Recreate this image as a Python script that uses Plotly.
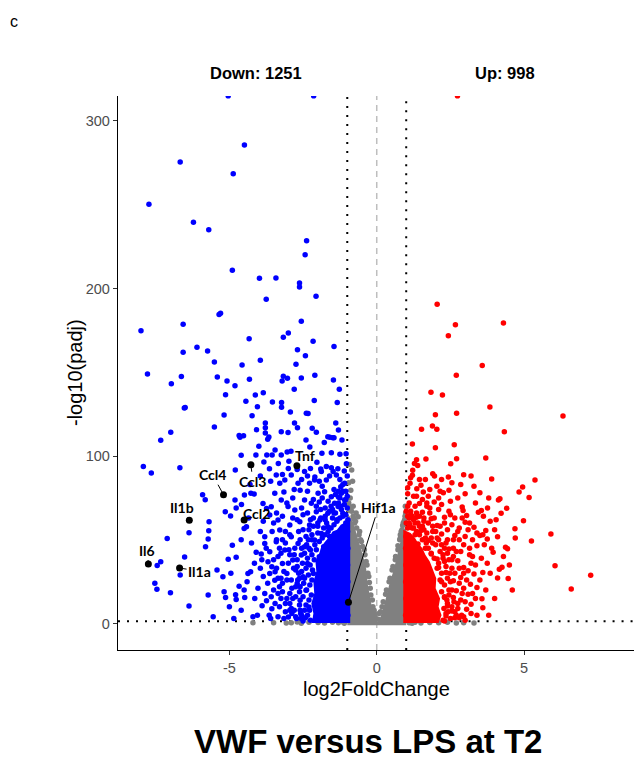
import plotly.graph_objects as go

# ---------------- data ----------------
# significant down-regulated genes (log2FoldChange, -log10(padj))
blue_pts = [
    (-5.04, 315), (-2.14, 315), (-4.49, 285.7), (-6.67, 275.5), (-4.87, 268.5), (-7.73, 250.3),
    (-6.22, 239.5), (-5.70, 235), (-2.38, 228.5), (-2.43, 220.2), (-4.90, 210.9), (-3.98, 206.1),
    (-3.42, 206.3), (-2.62, 203.3), (-2.62, 200.9), (-2.06, 195.3), (-3.75, 193.6),
    (-5.35, 184.4), (-5.30, 185.2), (-8.00, 174.8), (-6.57, 178.6), (-2.56, 180.4), (-3.00, 173.4),
    (-3.17, 170.9), (-4.33, 170), (-2.16, 168.5), (-6.10, 164.9), (-5.74, 162.7), (-6.57, 161.9),
    (-1.45, 165.3), (-2.69, 163.5), (-2.42, 159.9), (-3.95, 157.1), (-5.51, 156.1), (-4.57, 154.3),
    (-2.74, 154.7), (-7.78, 149), (-6.97, 143.2), (-6.63, 147.4), (-5.41, 147.2), (-5.08, 144.8),
    (-4.81, 142), (-4.32, 145.8), (-3.17, 147.6), (-3.21, 144.8), (-3.03, 146.4), (-2.56, 146.6),
    (-2.10, 148.2), (-1.47, 145.4), (-1.27, 139.8), (-2.80, 139.8), (-3.85, 137.8), (-4.12, 136.4),
    (-5.13, 136.6), (-4.44, 132.7), (-3.54, 132.2), (-3.23, 132), (-3.23, 129.1), (-2.12, 133.2),
    (-1.34, 132), (-6.53, 128.7), (-6.50, 128.9), (-4.05, 129.4), (-2.93, 126.3), (-2.39, 125.5),
    (-2.33, 125.4), (-5.18, 124.5), (-4.23, 124.1), (-5.51, 117.3), (-6.99, 114.2), (-7.33, 109.4),
    (-4.08, 115.7), (-3.78, 119.7), (-3.78, 116.9), (-3.78, 113.7), (-3.24, 114.5), (-3.01, 114.1),
    (-2.79, 119.7), (-2.69, 116.9), (-2.19, 116.5), (-2.05, 114.2), (-1.39, 119.7), (-1.30, 115.5),
    (-4.67, 112.3), (-4.52, 112.1), (-4.64, 111.2), (-3.66, 111.3), (-3.70, 110), (-2.40, 109.6),
    (-1.78, 108), (-1.66, 111.5), (-1.49, 110.9), (-1.45, 110.9), (-1.59, 111.2), (-1.18, 109.6),
    (-4.00, 105.8), (-2.27, 105.4), (-3.45, 103.6), (-4.60, 100.4), (-4.10, 100.6), (-3.73, 100.6),
    (-3.55, 100.6), (-3.24, 100.6), (-3.04, 102.4), (-2.91, 102.9), (-1.86, 101.6), (-1.54, 101.9),
    (-1.25, 101), (-1.04, 101.4), (-3.83, 96.4), (-3.64, 92.4), (-3.34, 95.6), (-2.98, 96.8),
    (-7.92, 93.8), (-6.68, 93), (-2.25, 92.6), (-2.03, 96.2), (-1.90, 92.2), (-1.71, 93.8),
    (-1.54, 93), (-1.32, 92.4), (-1.03, 95.4),
    (-7.65, 89.9), (-5.91, 76.9), (-5.82, 73.9), (-4.80, 91.6), (-5.14, 66.8), (-4.96, 64.2),
    (-4.77, 68.9), (-4.81, 73.7), (-4.59, 71.1), (-4.49, 76.7), (-6.37, 54.2), (-5.69, 60.8),
    (-5.70, 55.4), (-5.72, 50.4), (-5.81, 45.8), (-7.11, 50.8), (-6.52, 39.7), (-7.45, 34.7),
    (-7.33, 36.9), (-6.67, 28.9), (-5.42, 31.9), (-5.22, 27.9), (-7.53, 24.0), (-7.46, 20.4),
    (-7.00, 18.4), (-6.37, 10.4), (-5.72, 17.0), (-5.55, 4.1), (-5.18, 19.0), (-5.13, 15.6),
    (-5.04, 38.3), (-4.77, 39.5), (-4.90, 46.8), (-4.77, 14.4), (-4.79, 17.2), (-4.67, 22.3),
    (-4.50, 20.0), (-4.48, 15.6), (-4.37, 29.9), (-4.28, 30.9), (-4.09, 42.5), (-3.92, 41.5),
    (-4.50, 56.8), (-4.42, 57.8), (-4.20, 4.1), (-4.16, 77.3), (-4.27, 77.8), (-3.86, 71.7),
    (-3.74, 68.7), (-3.58, 69.7), (-3.80, 51.8), (-3.80, 47.8), (-3.63, 42.9), (-3.69, 36.9),
    (-3.56, 33.9), (-3.63, 29.9), (-3.46, 25.9), (-3.80, 18), (-3.74, 13.6), (-3.56, 8.8),
    (-3.35, 4.1), (-4.03, 21.0), (-4.14, 15.0), (-3.89, 10.6),
    (-3.41, 88.7), (-3.29, 83.7), (-3.12, 85.7), (-2.90, 88.7), (-2.67, 83.7), (-2.45, 90.7),
    (-2.28, 83.7), (-2.11, 85.7), (-1.88, 90.7), (-1.71, 85.7), (-1.48, 90.7), (-1.37, 88.7),
    (-1.22, 81.7), (-1.09, 83.7), (-1.99, 77.7), (-1.77, 78.7), (-1.54, 75.7), (-2.45, 73.7),
    (-2.22, 71.8), (-3.01, 69.8), (-2.78, 67.8), (-3.46, 77.7), (-3.24, 73.7), (-3.63, 64.8),
    (-3.35, 61.8), (-2.95, 58.8), (-2.61, 60.8), (-2.28, 58.8), (-1.93, 61.8), (-1.66, 65.8),
    (-1.31, 69.8), (-1.09, 73.7), (-1.20, 77.7), (-1.43, 71.8), (-2.90, 51.8), (-2.67, 47.8),
    (-3.12, 43.9), (-2.45, 45.8), (-2.11, 49.8), (-1.88, 53.8), (-1.66, 57.8), (-1.20, 55.8),
    (-3.29, 55.8), (-3.41, 48.8), (-2.56, 40.9), (-2.85, 37.9), (-3.20, 35.9), (-3.05, 29.9),
    (-2.75, 31.9), (-2.50, 27.9), (-3.30, 21.9), (-2.95, 17.9), (-2.70, 23.9), (-3.10, 11.9),
    (-2.80, 7.9), (-3.00, 3.9), (-2.60, 13.9), (-2.55, 4.9), (-2.40, 19.9), (-2.35, 35.9),
    (-2.30, 9.9), (-2.25, 43.9), (-2.15, 29.9), (-1.95, 39.9), (-1.80, 45.9), (-1.60, 51.9),
    (-1.35, 61.9), (-1.15, 65.9), (-3.25, 15.0), (-3.45, 30.9), (-2.65, 55.0), (-2.05, 66.8),
    (-1.75, 69.0), (-2.50, 65.0), (-1.05, 79.0), (-1.25, 86.0), (-3.15, 78.5), (-2.85, 75.0),
    (-2.70, 92.0), (-3.00, 92.5), (-3.40, 66.0), (-3.20, 50.0), (-2.98, 44.0), (-3.55, 55.0),
    (-3.85, 61.0), (-3.95, 33.0), (-4.05, 5.0), (-2.90, 26.0), (-3.35, 40.0), (-2.20, 53.0),
    (-1.45, 80.0), (-1.85, 82.0), (-2.35, 79.0), (-2.60, 79.5), (-1.95, 72.5), (-1.30, 75.5),
    (-2.10, 87.5),
    (-2.25, 2), (-2.35, 5), (-2.28, 8), (-2.40, 11), (-2.30, 14), (-2.22, 17), (-2.38, 20),
    (-2.27, 23), (-2.20, 26), (-2.32, 29), (-2.18, 32), (-2.26, 35), (-2.12, 38), (-2.20, 41),
    (-2.05, 44), (-2.10, 47), (-1.95, 49), (-1.85, 51), (-1.75, 53), (-1.65, 55), (-1.55, 57),
    (-1.45, 59), (-1.35, 61), (-1.25, 63), (-1.15, 64), (-1.05, 65),
    (-2.55, 3), (-2.60, 8), (-2.50, 16), (-2.45, 27), (-2.40, 33), (-2.35, 39), (-2.30, 45),
    (-2.20, 50), (-2.00, 54), (-1.80, 57), (-1.70, 60), (-1.50, 63), (-1.40, 66), (-1.20, 68),
    (-1.10, 71), (-1.00, 69), (-1.05, 74), (-1.30, 72), (-1.60, 67), (-1.90, 63), (-2.15, 58),
    (-2.40, 52), (-2.55, 45), (-2.70, 38), (-2.65, 30), (-2.75, 22), (-2.85, 15), (-2.90, 9),
    (-2.75, 4), (-3.10, 7), (-3.20, 19), (-3.05, 26), (-2.95, 41), (-2.60, 50), (-2.30, 56),
    (-2.00, 60), (-1.75, 64), (-1.55, 70), (-1.25, 75), (-1.15, 79), (-1.40, 77), (-1.90, 68),
    (-2.15, 63), (-2.70, 62), (-3.30, 45), (-3.50, 20), (-3.30, 10), (-3.60, 3), (-3.40, 33),
    (-3.45, 12), (-3.35, 18), (-3.20, 24), (-3.50, 38), (-3.25, 42), (-3.10, 48), (-2.95, 53),
    (-3.00, 36), (-3.15, 3), (-3.05, 15), (-2.88, 21), (-2.82, 33), (-2.78, 45), (-2.62, 27),
    (-2.72, 3), (-2.95, 8), (-3.25, 27), (-3.40, 50), (-3.58, 16), (-3.70, 24), (-3.65, 5),
    (-3.85, 28), (-3.90, 38), (-3.75, 45), (-3.50, 60), (-3.20, 64), (-2.85, 63), (-2.55, 69),
    (-2.35, 66), (-2.15, 74), (-2.55, 86), (-3.20, 89), (-3.60, 85), (-3.95, 88), (-4.30, 83),
    (-4.35, 63), (-4.60, 50), (-4.25, 48), (-4.15, 36), (-4.40, 25), (-4.60, 8), (-4.85, 3),
    (-5.00, 10), (-4.95, 30), (-3.95, 55), (-2.48, 24), (-2.52, 36), (-2.62, 19), (-2.45, 8),
    (-2.50, 1.5), (-2.62, 11), (-2.58, 6), (-2.75, 16), (-2.68, 26), (-2.55, 31), (-2.45, 42),
    (-2.38, 47), (-2.50, 56), (-2.25, 62), (-2.05, 70), (-1.85, 75), (-1.65, 73), (-1.50, 68),
    (-1.30, 79), (-1.15, 83), (-1.00, 88), (-1.10, 91), (-1.60, 88), (-1.95, 85), (-2.35, 88),
    (-2.80, 80), (-3.05, 72), (-2.80, 41), (-2.95, 12), (-3.15, 31), (-3.35, 27), (-3.10, 55),
    (-2.88, 6), (-2.60, 22), (-2.42, 3.5), (-2.70, 34), (-2.32, 50), (-2.00, 58), (-1.75, 62),
    (-1.45, 66), (-1.22, 70), (-1.05, 60), (-1.00, 76),
    (-0.98, 5), (-0.99, 15), (-0.98, 25), (-0.99, 35), (-0.98, 45), (-0.99, 55), (-0.98, 62),
]

# significant up-regulated genes
red_pts = [
    (2.74, 315), (2.05, 190.6), (2.67, 178.4), (4.30, 179.4), (2.43, 171.8), (3.58, 154.1),
    (2.70, 148.2), (1.84, 138), (2.23, 136.4), (3.84, 129.3), (1.99, 124.7), (2.71, 125.5),
    (6.32, 123.9), (1.52, 115.9), (1.89, 117.9), (2.04, 115.9), (4.33, 114.5), (1.21, 107.2),
    (1.99, 105), (2.63, 106.7), (1.35, 97.8), (1.28, 95.6), (1.39, 94.4), (1.67, 98.2),
    (2.71, 98.4), (3.70, 98.8), (2.51, 95.4), (1.21, 88.5), (1.15, 87), (1.90, 89.4),
    (1.96, 88.1), (2.43, 87.5), (2.95, 88.8), (3.90, 86.3), (5.37, 85.7),
    (4.83, 78.5), (4.95, 81.5), (5.17, 75.3), (4.13, 73.7), (4.18, 74.5), (4.41, 68.8),
    (4.22, 65.8), (3.76, 69), (4.98, 61.4), (5.91, 53.4), (4.69, 56.6), (4.70, 51),
    (5.25, 49.3), (4.10, 51.8), (4.37, 45.5), (4.44, 44.7), (6.05, 34.5), (7.26, 28.8),
    (6.60, 20.6), (4.46, 26.9), (4.10, 27.2), (4.25, 33.6), (4.16, 32.4), (3.60, 9.4),
    (3.57, 14.8), (2.88, 5), (2.95, 4), (2.80, 3.5),
    (1.13, 83.7), (1.36, 80.5), (1.50, 82.5), (1.58, 78.5), (1.75, 76), (2.04, 82),
    (2.15, 79), (2.26, 78), (2.45, 79.5), (1.25, 76), (1.45, 71.7), (1.70, 70),
    (1.95, 72.5), (2.20, 71), (2.10, 68), (2.45, 67), (2.90, 69.5), (2.93, 67.5),
    (3.05, 64.5), (3.45, 66.5), (3.55, 67.5), (3.62, 64), (3.85, 61), (4.05, 62),
    (1.15, 65), (1.35, 63.5), (1.60, 61), (1.85, 62.5), (2.05, 58.5), (2.30, 60),
    (2.55, 59), (2.80, 57), (3.10, 56), (3.30, 57.5), (3.40, 54), (3.50, 52.5),
    (3.60, 53), (3.70, 55.5), (3.25, 50), (3.75, 50.5), (2.65, 52.5), (2.40, 50),
    (2.20, 53.5), (1.90, 55), (1.65, 51), (1.50, 55.5), (2.95, 47), (3.15, 45),
    (3.40, 46.5), (3.95, 42.5), (3.15, 41), (2.70, 43), (2.45, 44.5), (2.25, 41),
    (2.05, 38.5), (3.75, 36), (3.55, 39), (3.35, 35), (2.95, 33.5), (2.75, 37.5),
    (2.55, 33), (2.35, 30.5), (3.60, 30.5), (3.30, 29.5), (3.10, 31.5), (2.85, 27.5),
    (2.60, 25.5), (2.40, 27), (3.18, 23.5), (2.95, 21), (2.70, 19.5), (3.40, 21.5),
    (3.10, 17.5), (2.85, 14), (2.60, 15.5), (2.45, 20), (2.40, 10.5), (2.55, 7.5),
    (2.75, 9), (3.05, 8.5), (2.65, 3.5), (2.35, 4.5), (3.20, 11.5), (2.30, 15.5),
    (2.20, 25), (2.10, 33.5), (1.85, 41.5), (1.65, 45), (1.40, 47.5), (1.75, 49.5),
    (1.20, 57), (1.10, 60), (1.30, 53), (1.05, 70), (1.55, 66.5), (2.30, 63.5),
    (2.65, 63), (1.80, 66), (3.00, 60.5), (2.50, 73), (2.75, 75), (3.35, 72),
    (3.00, 77.5), (1.05, 77.5), (1.22, 91.5), (1.65, 86), (2.20, 86), (2.85, 83), (3.30, 82),
    (2.25, 2), (2.35, 6), (2.28, 9), (2.40, 12), (2.30, 16), (2.20, 19), (2.30, 23),
    (2.15, 26), (2.20, 30), (2.05, 33), (2.10, 36), (1.95, 39), (1.85, 42), (1.75, 45),
    (1.68, 48), (1.55, 50), (1.45, 53), (1.35, 55), (1.25, 57), (1.12, 59), (1.00, 60),
    (2.50, 3), (2.55, 10), (2.45, 17), (2.50, 25), (2.35, 34), (2.25, 39), (2.15, 43),
    (2.00, 47), (1.85, 51), (1.70, 54), (1.55, 58), (1.40, 60), (1.25, 62), (1.05, 64),
    (1.15, 67), (1.35, 66), (1.60, 63), (1.90, 58), (2.10, 50), (2.30, 45), (2.45, 38),
    (2.65, 30), (2.80, 24), (2.75, 12), (2.90, 18), (2.65, 7), (3.00, 13), (3.20, 6),
    (2.95, 30), (2.60, 40), (2.35, 48), (2.00, 55), (1.75, 60), (1.45, 64), (1.00, 67),
    (1.10, 72), (1.30, 70), (1.70, 72), (2.40, 56),
    (2.60, 45), (2.80, 50), (3.00, 52), (3.20, 36), (3.50, 26), (3.35, 15), (3.00, 2),
    (3.40, 5), (3.70, 20), (3.85, 30), (3.90, 45), (3.65, 47), (3.15, 60), (2.50, 65),
    (2.10, 75), (2.55, 84), (3.20, 88), (3.50, 78), (3.80, 75), (4.00, 56), (4.30, 40),
    (4.50, 35), (4.60, 20), (4.00, 15), (3.80, 5), (3.25, 40), (2.75, 55), (2.90, 63),
    (2.30, 1.5), (2.42, 7), (2.38, 14), (2.55, 20), (2.62, 13), (2.70, 5), (2.48, 30),
    (2.30, 37), (2.20, 47), (2.05, 51), (1.90, 48), (1.60, 56), (1.45, 58), (1.30, 60),
    (1.20, 64), (1.10, 63), (1.05, 57), (2.80, 33), (2.55, 38), (2.40, 42), (2.15, 58),
    (1.95, 63), (1.80, 69), (1.55, 74), (1.35, 76), (1.05, 81), (1.45, 86), (1.80, 80),
    (2.60, 50), (2.85, 43), (3.05, 26), (3.25, 18),
    (0.98, 5), (0.99, 15), (0.98, 25), (0.99, 35), (0.98, 45), (0.99, 52),
]

# non-significant genes scattered outside the dense "V"
grey_pts = [
    (-0.85, 91.6), (-0.82, 85), (-0.88, 79.6), (-0.90, 75), (-0.80, 70), (-0.95, 84),
    (-0.93, 95), (-0.63, 63.8), (-0.70, 66), (-0.78, 62.5), (-0.58, 55), (-0.52, 49),
    (-0.42, 44), (-0.36, 37), (-0.30, 30), (-0.25, 24.5), (-0.20, 17), (-0.13, 10),
    (-0.06, 5.5), (0.08, 6), (0.18, 10), (0.30, 17.5), (0.42, 25), (0.52, 32),
    (0.63, 38), (0.72, 44), (0.78, 50), (0.83, 55), (0.88, 58.5), (0.93, 61),
    (0.96, 64), (0.80, 53), (-0.96, 70), (-0.92, 67.5), (-0.75, 60),
    (-0.95, 72), (-0.90, 69), (-0.85, 67), (-0.80, 64), (-0.72, 61), (-0.68, 57),
    (-0.60, 53), (-0.55, 50), (-0.48, 46), (-0.40, 41), (-0.33, 35), (-0.27, 28),
    (-0.22, 21), (-0.15, 14), (-0.09, 8), (-0.03, 3), (0.05, 2.5), (0.13, 7),
    (0.22, 13), (0.33, 20), (0.45, 27), (0.55, 34), (0.64, 40), (0.72, 46.5),
    (0.80, 51), (0.86, 56), (0.90, 60), (0.95, 62), (0.98, 66), (0.97, 70),
    (-4.20, 0.4), (-3.07, 0.3), (-2.90, 0.5), (-2.56, 0.2), (-1.99, 0.6), (-1.77, 0.3),
    (-1.50, 0.8), (-1.30, 0.5), (-1.15, 0.9), (1.10, 0.5), (1.30, 0.8), (1.50, 0.3),
    (1.80, 0.6), (2.10, 0.4), (2.40, 0.7), (2.70, 0.3), (2.95, 0.5), (-2.30, 0.7),
    (-2.70, 0.9), (-3.50, 0.4), (3.30, 0.3), (-1.10, 0.2), (1.20, 0.2),
]

# dense cores, read as outlines of the solid point clouds
blue_core_x = [-0.90, -2.20, -2.15, -2.22, -2.12, -2.15, -2.05, -2.08, -1.95, -1.88, -1.75,
               -1.60, -1.50, -1.35, -1.22, -1.10, -0.90]
blue_core_y = [0.3, 0.3, 6, 12, 18, 25, 31, 37, 42, 46, 49, 52, 55, 56, 59, 60, 62]
red_core_x = [0.90, 2.10, 2.20, 2.10, 2.15, 2.00, 2.02, 1.90, 1.80, 1.65, 1.55, 1.40,
              1.30, 1.15, 0.90]
red_core_y = [0.3, 0.3, 5, 10, 15, 21, 27, 32, 37, 41, 45, 48, 51, 54, 56]
grey_core_x = [-1.00, -1.00, -0.88, -0.76, -0.64, -0.47, -0.36, -0.30, -0.19, -0.08, 0.02,
               0.13, 0.27, 0.42, 0.59, 0.70, 0.81, 0.90, 1.00, 1.00]
grey_core_y = [-1.0, 66, 63, 58, 50.8, 40.9, 32.9, 23, 12.2, 4.1, 1.1,
               4.1, 12.2, 23, 32.9, 40.9, 50.8, 56, 57, -1.0]

# labelled genes: name, log2FC, -log10(padj), label offset (px)
gene_names = ["Il6", "Il1a", "Il1b", "Ccl4", "Ccl3", "Ccl2", "Tnf", "Hif1a"]
gene_x = [-7.75, -6.69, -6.36, -5.20, -4.27, -4.50, -2.71, -0.96]
gene_y = [35.5, 33.1, 61.6, 76.9, 94.8, 61.8, 94.2, 12.7]
label_dx = [-1, 20, -7, -11, 2, 12, 8, 30]
label_dy = [-14, 3, -13, -20, 17, -7, -10, -95]

down_label = "Down: 1251"
up_label = "Up: 998"
fc_cut = 1
padj_cut = 1.3
x_range = [-8.78, 8.73]
y_range = [-15.8, 314.9]
# stretches of the threshold lines that are hidden under the dense clouds
left_hidden = [-1.5, 66]
right_hidden = [-1.5, 58]
bottom_hidden = [-2.3, 2.2]

# ---------------- figure ----------------
BLUE, RED, GREY = "#0000FF", "#FF0000", "#808080"
MS = 5.5

fig = go.Figure()


def ref_line(xs, ys, color, width, dash):
    fig.add_trace(go.Scatter(x=xs, y=ys, mode="lines", connectgaps=False,
                             line=dict(color=color, width=width, dash=dash),
                             hoverinfo="skip", showlegend=False, cliponaxis=True))


def core(xs, ys, color):
    fig.add_trace(go.Scatter(x=xs, y=ys, mode="lines", fill="toself", fillcolor=color,
                             line=dict(width=0, color=color), hoverinfo="skip", showlegend=False))


def pts(p, color, size=MS):
    fig.add_trace(go.Scatter(x=[a for a, b in p], y=[b for a, b in p], mode="markers",
                             marker=dict(color=color, size=size, line=dict(width=0)),
                             showlegend=False, hoverinfo="skip"))


# reference lines first so the points cover them
dot = "2px,7px"
ref_line([-fc_cut] * 5, [y_range[0], left_hidden[0], None, left_hidden[1], y_range[1]],
         "black", 2, dot)
ref_line([fc_cut] * 5, [y_range[0], right_hidden[0], None, right_hidden[1], y_range[1]],
         "black", 2, dot)
ref_line([0, 0], y_range, "#BEBEBE", 1.5, "6px,5px")
ref_line([x_range[0], bottom_hidden[0], None, bottom_hidden[1], x_range[1]], [padj_cut] * 5,
         "black", 2, dot)

core(grey_core_x, grey_core_y, GREY)
pts(grey_pts, GREY)
core(blue_core_x, blue_core_y, BLUE)
pts(blue_pts, BLUE)
core(red_core_x, red_core_y, RED)
pts(red_pts, RED)

fig.add_trace(go.Scatter(x=gene_x, y=gene_y, mode="markers",
                         marker=dict(color="black", size=7), showlegend=False, hoverinfo="skip"))

for n, gx, gy, dx, dy in zip(gene_names, gene_x, gene_y, label_dx, label_dy):
    fig.add_annotation(x=gx, y=gy, xref="x", yref="y", text=n, showarrow=True,
                       ax=dx, ay=dy, arrowhead=0, arrowwidth=1, arrowcolor="black",
                       standoff=0, startstandoff=0,
                       font=dict(family="Lato", size=14, color="black", weight="bold"))

axis_font = dict(family="Liberation Sans", size=14.5, color="#4D4D4D")
fig.update_xaxes(range=x_range, tickvals=[-5, 0, 5], ticktext=["-5", "0", "5"],
                 showline=True, linecolor="black", linewidth=1.3, ticks="outside",
                 ticklen=4, tickcolor="#333333", tickfont=axis_font,
                 showgrid=False, zeroline=False)
fig.update_yaxes(range=y_range, tickvals=[0, 100, 200, 300],
                 ticktext=["0", "100", "200", "300"],
                 showline=True, linecolor="black", linewidth=1.3, ticks="outside",
                 ticklen=4, tickcolor="#333333", tickfont=axis_font,
                 showgrid=False, zeroline=False)

title_font = dict(family="Liberation Sans", size=20, color="black")
fig.add_annotation(text="log2FoldChange", xref="paper", yref="paper", x=0.5, y=-0.0704,
                   showarrow=False, font=title_font, xanchor="center", yanchor="middle")
fig.add_annotation(text="-log10(padj)", xref="paper", yref="paper", x=-0.0833, y=0.5,
                   showarrow=False, font=title_font, textangle=-90,
                   xanchor="center", yanchor="middle")
fig.add_annotation(text="<b>VWF versus LPS at T2</b>", xref="paper", yref="paper",
                   x=0.4845, y=-0.166, showarrow=False, xanchor="center", yanchor="middle",
                   font=dict(family="Liberation Sans", size=33, color="black"))
fig.add_annotation(text="c", xref="paper", yref="paper", x=-0.2016, y=1.1336,
                   showarrow=False, xanchor="center", yanchor="middle",
                   font=dict(family="Liberation Sans", size=16, color="black"))
for txt, xv in ((down_label, -4.1), (up_label, 4.36)):
    fig.add_annotation(text="<b>" + txt + "</b>", xref="x", yref="paper", x=xv, y=1,
                       yanchor="bottom", yshift=12, showarrow=False,
                       font=dict(family="Liberation Sans", size=16.5, color="black"))

fig.update_layout(width=634, height=762, margin=dict(l=118, r=0, t=96, b=112),
                  plot_bgcolor="white", paper_bgcolor="white", showlegend=False)

fig.write_html("out.html")
